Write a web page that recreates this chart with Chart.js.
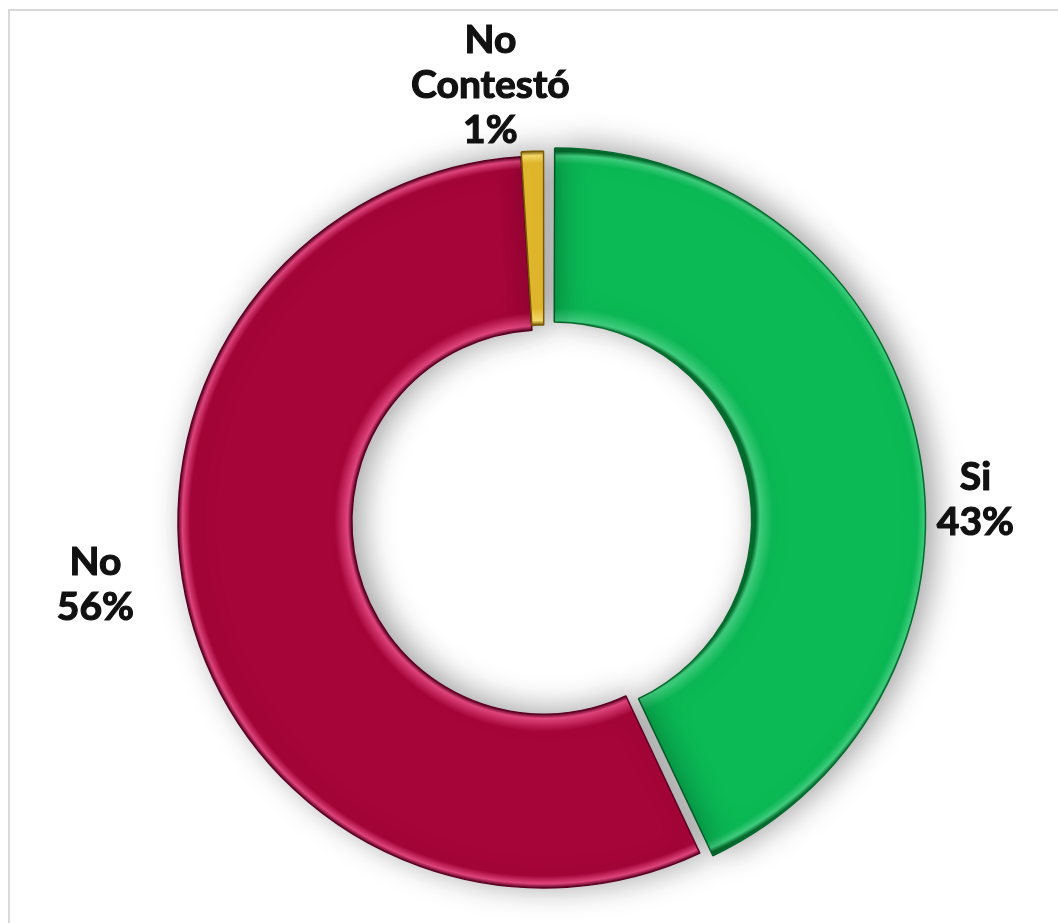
<!DOCTYPE html>
<html>
  <head>
    <meta charset="utf-8" />
    <title>Encuesta</title>
    <script src="https://cdn.jsdelivr.net/npm/chart.js"></script>
    <style>
      * {
        box-sizing: border-box;
        margin: 0;
        padding: 0;
      }
      html,
      body {
        width: 1058px;
        height: 923px;
        overflow: hidden;
        background: #fff;
      }
      #frame {
        position: absolute;
        left: 8px;
        top: 9px;
        width: 1100px;
        height: 1000px;
        border: 2px solid #d9d9d9;
      }
      #box {
        position: absolute;
        left: 0;
        top: 0;
        width: 1058px;
        height: 923px;
      }
    </style>
  </head>
  <body>
    <div id="frame"></div>
    <div id="box"><canvas id="chart"></canvas></div>

    <script>
      // data
      const labels = ["Si", "No", "No Contestó"];
      const values = [43, 56, 1];
      const labelLines = [["Si"], ["No"], ["No", "Contestó"]];

      // colours: [dark edge, highlight, base]
      const palette = [
        ["#056b2e", "#3fcf7e", "#0bb955"],
        ["#5c0022", "#e2457c", "#a50539"],
        ["#7a5a05", "#f7dc6a", "#e3b92c"],
      ];
      const offsets = [40, 0, 10]; // exploded slices (chart.js divides by 4)

      const RADIUS = 366;
      const CUT = 0.525;

      function ringGradient(ctx) {
        const chart = ctx.chart;
        const area = chart.chartArea;
        const i = ctx.dataIndex;
        const c = palette[i];
        if (!area) return c[2];
        const total = values.reduce((s, v) => s + v, 0);
        const before = values.slice(0, i).reduce((s, v) => s + v, 0);
        const mid = -Math.PI / 2 + (2 * Math.PI * (before + values[i] / 2)) / total;
        const cx = (area.left + area.right) / 2 + (Math.cos(mid) * offsets[i]) / 4;
        const cy = (area.top + area.bottom) / 2 + (Math.sin(mid) * offsets[i]) / 4;
        const g = chart.ctx.createRadialGradient(cx, cy, RADIUS * CUT, cx, cy, RADIUS);
        g.addColorStop(0, c[0]);
        g.addColorStop(0.025, c[1]);
        g.addColorStop(0.1, c[2]);
        g.addColorStop(0.93, c[2]);
        g.addColorStop(0.975, c[1]);
        g.addColorStop(1, c[0]);
        return g;
      }

      // soft shadow under the ring
      const shadowPlugin = {
        id: "shadow",
        beforeDatasetsDraw(chart) {
          const ctx = chart.ctx;
          ctx.save();
          ctx.shadowColor = "rgba(0,0,0,0.38)";
          ctx.shadowBlur = 32;
          ctx.shadowOffsetX = 8;
          ctx.shadowOffsetY = -2;
        },
        afterDatasetsDraw(chart) {
          chart.ctx.restore();
        },
      };

      // outside labels (angle nudge in degrees, distance from centre)
      const labelPos = [
        [9.7, 432],
        [6.4, 453],
        [-5.2, 440],
      ];
      const labelPlugin = {
        id: "outLabels",
        afterDraw(chart) {
          const ctx = chart.ctx;
          const meta = chart.getDatasetMeta(0);
          const total = values.reduce((s, v) => s + v, 0);
          ctx.save();
          ctx.fillStyle = "#111";
          ctx.strokeStyle = "#111";
          ctx.lineWidth = 1.2;
          ctx.font = "bold 39px Lato";
          ctx.textAlign = "center";
          ctx.textBaseline = "middle";
          meta.data.forEach((arc, i) => {
            const mid = (arc.startAngle + arc.endAngle) / 2 + (labelPos[i][0] * Math.PI) / 180;
            const x = arc.x + Math.cos(mid) * labelPos[i][1];
            const y = arc.y + Math.sin(mid) * labelPos[i][1];
            const lines = labelLines[i].concat([Math.round((values[i] / total) * 100) + "%"]);
            const lh = 45;
            lines.forEach((t, k) => {
              const ty = y + (k - (lines.length - 1) / 2) * lh;
              ctx.fillText(t, x, ty);
              ctx.strokeText(t, x, ty);
            });
          });
          ctx.restore();
        },
      };

      new Chart(document.getElementById("chart"), {
        type: "doughnut",
        data: {
          labels: labels,
          datasets: [
            {
              data: values,
              backgroundColor: ringGradient,
              borderColor: palette.map((c) => c[0]),
              borderWidth: 1.5,
              offset: offsets,
            },
          ],
        },
        options: {
          responsive: true,
          maintainAspectRatio: false,
          animation: false,
          radius: RADIUS,
          cutout: CUT * 100 + "%",
          layout: {
            padding: { left: 30, right: 0, top: 121, bottom: 0 },
          },
          plugins: {
            legend: { display: false },
            tooltip: { enabled: false },
          },
        },
        plugins: [shadowPlugin, labelPlugin],
      });
    </script>
  </body>
</html>
